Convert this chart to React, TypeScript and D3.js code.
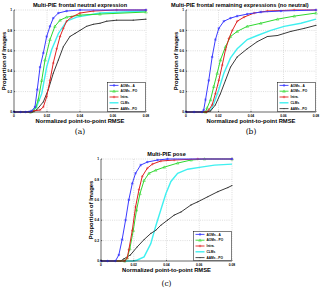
import React from "react";
import * as d3 from "d3";

type Pt = [number, number];

const X_TICKS = [0, 0.02, 0.04, 0.06, 0.08];
const Y_TICKS = [0, 0.2, 0.4, 0.6, 0.8, 1];
const METHODS = ["AOMs - A", "AOMs - PO", "Intra.", "CLMs", "AAMs - PO"];
const COLORS = ["#3b3bff", "#2fd82f", "#e02020", "#3ff0f0", "#3a3a3a"];
const MARKERS = ["star", "tri", "plus", "none", "dot"];

// frontal neutral expression
const neutralA: Pt[] = [[0, 0], [0.004, 0], [0.007, 0], [0.0095, 0.004], [0.0107, 0.01], [0.0127, 0.05], [0.0141, 0.22], [0.0158, 0.44], [0.0178, 0.58], [0.0198, 0.74], [0.0218, 0.84], [0.0238, 0.92], [0.0269, 0.97], [0.0319, 0.99], [0.04, 1], [0.08, 1]];
const neutralPO: Pt[] = [[0, 0], [0.01, 0], [0.0117, 0.01], [0.0133, 0.05], [0.0147, 0.12], [0.0168, 0.31], [0.0188, 0.51], [0.0218, 0.71], [0.0248, 0.84], [0.0279, 0.9], [0.0319, 0.93], [0.04, 0.95], [0.0521, 0.96], [0.08, 0.98]];
const neutralIntra: Pt[] = [[0, 0], [0.01, 0], [0.0117, 0.01], [0.0158, 0.02], [0.0178, 0.05], [0.0198, 0.15], [0.0218, 0.31], [0.0238, 0.48], [0.0259, 0.62], [0.0279, 0.74], [0.0299, 0.82], [0.0319, 0.89], [0.0349, 0.93], [0.04, 0.97], [0.0481, 0.99], [0.0622, 1], [0.08, 1]];
const neutralCLM: Pt[] = [[0, 0], [0.011, 0], [0.0137, 0.05], [0.0168, 0.18], [0.0198, 0.44], [0.0228, 0.61], [0.0269, 0.77], [0.0319, 0.89], [0.038, 0.93], [0.0521, 0.97], [0.08, 0.99]];
const neutralAAM: Pt[] = [[0, 0], [0.011, 0], [0.0137, 0.02], [0.0178, 0.1], [0.0208, 0.22], [0.0238, 0.38], [0.0269, 0.51], [0.0299, 0.64], [0.0339, 0.74], [0.037, 0.77], [0.04, 0.8], [0.044, 0.84], [0.0481, 0.86], [0.0521, 0.87], [0.0562, 0.89], [0.0622, 0.9], [0.0723, 0.9], [0.08, 0.91]];

// frontal remaining expressions
const otherA: Pt[] = [[0, 0], [0.005, 0], [0.0099, 0], [0.0109, 0.02], [0.012, 0.12], [0.014, 0.31], [0.0161, 0.54], [0.0181, 0.71], [0.0202, 0.82], [0.0233, 0.89], [0.0274, 0.92], [0.0315, 0.94], [0.0377, 0.96], [0.046, 0.98], [0.0584, 0.99], [0.08, 1]];
const otherPO: Pt[] = [[0, 0], [0.012, 0], [0.013, 0.04], [0.0151, 0.12], [0.0171, 0.25], [0.0192, 0.38], [0.0212, 0.51], [0.0243, 0.64], [0.0274, 0.74], [0.0315, 0.79], [0.0377, 0.84], [0.046, 0.87], [0.0563, 0.91], [0.0666, 0.94], [0.08, 0.97]];
const otherIntra: Pt[] = [[0, 0], [0.0125, 0], [0.014, 0.02], [0.0161, 0.07], [0.0181, 0.18], [0.0202, 0.31], [0.0223, 0.46], [0.0243, 0.61], [0.0264, 0.72], [0.0285, 0.8], [0.0315, 0.89], [0.0357, 0.93], [0.0419, 0.97], [0.0501, 0.99], [0.0666, 1], [0.08, 1]];
const otherCLM: Pt[] = [[0, 0], [0.0125, 0], [0.0151, 0.02], [0.0171, 0.08], [0.0202, 0.22], [0.0233, 0.38], [0.0274, 0.53], [0.0315, 0.62], [0.0377, 0.71], [0.0439, 0.75], [0.0522, 0.8], [0.0604, 0.84], [0.0707, 0.87], [0.08, 0.91]];
const otherAAM: Pt[] = [[0, 0], [0.0125, 0], [0.0151, 0.01], [0.0181, 0.07], [0.0212, 0.18], [0.0243, 0.31], [0.0274, 0.44], [0.0315, 0.54], [0.0377, 0.62], [0.0439, 0.69], [0.0501, 0.74], [0.0563, 0.75], [0.0645, 0.79], [0.0728, 0.82], [0.08, 0.85]];

// pose
const poseA: Pt[] = [[0, 0], [0.004, 0], [0.0088, 0], [0.0109, 0.06], [0.0129, 0.21], [0.015, 0.4], [0.017, 0.6], [0.0191, 0.76], [0.0211, 0.86], [0.0242, 0.94], [0.0283, 0.97], [0.0345, 0.99], [0.0406, 1], [0.08, 1]];
const posePO: Pt[] = [[0, 0], [0.0145, 0], [0.016, 0.03], [0.0176, 0.12], [0.0197, 0.3], [0.0217, 0.5], [0.0238, 0.66], [0.0263, 0.79], [0.0293, 0.86], [0.0334, 0.89], [0.0386, 0.92], [0.0468, 0.96], [0.055, 0.99], [0.0632, 1], [0.08, 1]];
const poseIntra: Pt[] = [[0, 0], [0.0145, 0], [0.016, 0.03], [0.017, 0.11], [0.0191, 0.3], [0.0211, 0.53], [0.0232, 0.7], [0.0252, 0.83], [0.0283, 0.91], [0.0314, 0.95], [0.0365, 0.98], [0.0447, 0.99], [0.0591, 1], [0.08, 1]];
const poseCLM: Pt[] = [[0, 0], [0.02, 0], [0.0222, 0.01], [0.0263, 0.04], [0.0304, 0.17], [0.0334, 0.34], [0.0365, 0.5], [0.0396, 0.66], [0.0427, 0.78], [0.0468, 0.86], [0.0529, 0.9], [0.0611, 0.92], [0.0693, 0.94], [0.08, 0.95]];
const poseAAM: Pt[] = [[0, 0], [0.012, 0], [0.0139, 0.02], [0.018, 0.06], [0.0222, 0.14], [0.0263, 0.21], [0.0304, 0.27], [0.0334, 0.3], [0.0365, 0.35], [0.0406, 0.4], [0.0447, 0.45], [0.0488, 0.48], [0.055, 0.55], [0.0591, 0.58], [0.0652, 0.63], [0.0714, 0.68], [0.0775, 0.72], [0.08, 0.74]];

const FONT = "Liberation Sans, Arial, sans-serif";

function Marker({ kind, x, y, color }: { kind: string; x: number; y: number; color: string }) {
  const s = 1.3;
  if (kind === "star")
    return (
      <g stroke={color} strokeWidth={0.5}>
        <line x1={x - s} y1={y} x2={x + s} y2={y} />
        <line x1={x} y1={y - s} x2={x} y2={y + s} />
        <line x1={x - s * 0.7} y1={y - s * 0.7} x2={x + s * 0.7} y2={y + s * 0.7} />
        <line x1={x - s * 0.7} y1={y + s * 0.7} x2={x + s * 0.7} y2={y - s * 0.7} />
      </g>
    );
  if (kind === "tri")
    return <path d={`M${x},${y - s}L${x + s},${y + s * 0.8}L${x - s},${y + s * 0.8}Z`} fill="none" stroke={color} strokeWidth={0.5} />;
  if (kind === "plus")
    return (
      <g stroke={color} strokeWidth={0.5}>
        <line x1={x - s} y1={y} x2={x + s} y2={y} />
        <line x1={x} y1={y - s} x2={x} y2={y + s} />
      </g>
    );
  if (kind === "dot") return <circle cx={x} cy={y} r={0.6} fill={color} />;
  return null;
}

type PanelProps = {
  series: Pt[][];
  left: number;
  right: number;
  top: number;
  bottom: number;
  title: string;
  titleX?: number;
  tag: string;
  tagGap: number;
};

function Panel({ series, left, right, top, bottom, title, titleX, tag, tagGap }: PanelProps) {
  const x = d3.scaleLinear().domain([0, 0.08]).range([left, right]);
  const y = d3.scaleLinear().domain([0, 1]).range([bottom, top]);
  const line = d3.line<Pt>().x((d) => x(d[0])).y((d) => y(d[1]));
  const cx = (left + right) / 2;
  const lgW = 38;
  const lgH = 29;
  const lgX = right - lgW - 0.5;
  const lgY = bottom - lgH - 0.5;
  const rowH = lgH / METHODS.length;

  // draw order: cyan and black under the marked curves
  const order = [3, 4, 1, 2, 0];

  return (
    <g fontFamily={FONT}>
      {X_TICKS.slice(1).map((t) => (
        <line key={"gx" + t} x1={x(t)} x2={x(t)} y1={top} y2={bottom} stroke="#bbb" strokeWidth={0.5} strokeDasharray="1,1.2" />
      ))}
      {Y_TICKS.slice(1).map((t) => (
        <line key={"gy" + t} x1={left} x2={right} y1={y(t)} y2={y(t)} stroke="#bbb" strokeWidth={0.5} strokeDasharray="1,1.2" />
      ))}
      {order.map((i) => (
        <g key={"s" + i}>
          <path d={line(series[i]) || ""} fill="none" stroke={COLORS[i]} strokeWidth={i === 3 ? 1.4 : 1} />
          {series[i].map((p, j) => (
            <Marker key={j} kind={MARKERS[i]} x={x(p[0])} y={y(p[1])} color={COLORS[i]} />
          ))}
        </g>
      ))}
      <line x1={left} x2={left} y1={top} y2={bottom} stroke="#000" strokeWidth={0.6} />
      <line x1={left} x2={right} y1={bottom} y2={bottom} stroke="#000" strokeWidth={0.6} />
      {X_TICKS.map((t) => (
        <g key={"tx" + t}>
          <line x1={x(t)} x2={x(t)} y1={bottom} y2={bottom - 1.2} stroke="#000" strokeWidth={0.5} />
          <text x={x(t)} y={bottom + 4.5} fontSize={3.3} fontWeight="bold" textAnchor="middle">
            {t === 0 ? "0" : t.toFixed(2)}
          </text>
        </g>
      ))}
      {Y_TICKS.map((t) => (
        <g key={"ty" + t}>
          <line x1={left} x2={left + 1.2} y1={y(t)} y2={y(t)} stroke="#000" strokeWidth={0.5} />
          <text x={left - 2} y={y(t) + 1.1} fontSize={3.3} fontWeight="bold" textAnchor="end">
            {t === 0 || t === 1 ? String(t) : t.toFixed(1)}
          </text>
        </g>
      ))}
      <text x={titleX ?? cx} y={top - 3} fontSize={5.6} fontWeight="bold" textAnchor={titleX ? "start" : "middle"}>
        {title}
      </text>
      <text x={cx} y={bottom + 11} fontSize={5.8} fontWeight="bold" textAnchor="middle">
        Normalized point-to-point RMSE
      </text>
      <text transform={`translate(${left - 8},${(top + bottom) / 2}) rotate(-90)`} fontSize={5.8} fontWeight="bold" textAnchor="middle">
        Proportion of Images
      </text>
      <text x={cx} y={bottom + tagGap} fontSize={7.5} fontFamily="DejaVu Serif, serif" textAnchor="middle">
        {tag}
      </text>
      <rect x={lgX} y={lgY} width={lgW} height={lgH} fill="#fff" stroke="#000" strokeWidth={0.5} />
      {METHODS.map((m, i) => {
        const ry = lgY + rowH * (i + 0.5);
        return (
          <g key={m}>
            <line x1={lgX + 2} x2={lgX + 11} y1={ry} y2={ry} stroke={COLORS[i]} strokeWidth={i === 3 ? 1.4 : 0.9} />
            <Marker kind={MARKERS[i]} x={lgX + 6.5} y={ry} color={COLORS[i]} />
            <text x={lgX + 13} y={ry + 1.1} fontSize={3.2} fontWeight="bold">
              {m}
            </text>
          </g>
        );
      })}
    </g>
  );
}

export default function App() {
  return (
    <svg width={322} height={291} style={{ position: "absolute", left: 0, top: 0, background: "#fff" }}>
      <Panel
        series={[neutralA, neutralPO, neutralIntra, neutralCLM, neutralAAM]}
        left={14}
        right={146}
        top={10}
        bottom={112}
        title="Multi-PIE frontal neutral expression"
        tag="(a)"
        tagGap={22}
      />
      <Panel
        series={[otherA, otherPO, otherIntra, otherCLM, otherAAM]}
        left={186}
        right={316}
        top={10}
        bottom={112}
        title="Multi-PIE frontal remaining expressions (no neutral)"
        titleX={171}
        tag="(b)"
        tagGap={22}
      />
      <Panel
        series={[poseA, posePO, poseIntra, poseCLM, poseAAM]}
        left={101}
        right={232}
        top={159}
        bottom={261}
        title="Multi-PIE pose"
        tag="(c)"
        tagGap={25}
      />
    </svg>
  );
}
